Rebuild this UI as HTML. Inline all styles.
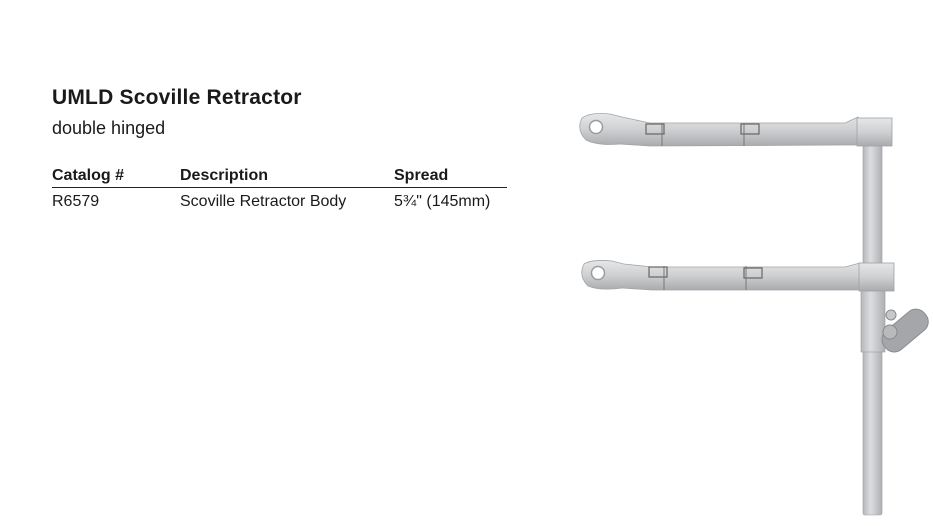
<!DOCTYPE html>
<html><head><meta charset="utf-8"><style>
body{margin:0;background:#fff;width:933px;height:526px;overflow:hidden;position:relative;font-family:"Liberation Sans",sans-serif;color:#1a1a1a}
.t{position:absolute;white-space:nowrap}
</style></head><body>
<div class="t" style="left:52px;top:86px;font-size:21px;font-weight:bold;letter-spacing:0.2px">UMLD Scoville Retractor</div>
<div class="t" style="left:52px;top:118px;font-size:18px">double hinged</div>
<div class="t" style="left:52px;top:167px;font-size:16px;font-weight:bold">Catalog #</div>
<div class="t" style="left:180px;top:167px;font-size:16px;font-weight:bold">Description</div>
<div class="t" style="left:394px;top:167px;font-size:16px;font-weight:bold">Spread</div>
<div style="position:absolute;left:52px;top:187px;width:455px;height:1px;background:#222"></div>
<div class="t" style="left:52px;top:193px;font-size:16px">R6579</div>
<div class="t" style="left:180px;top:193px;font-size:16px">Scoville Retractor Body</div>
<div class="t" style="left:394px;top:193px;font-size:16px">5¾" (145mm)</div>
<svg style="position:absolute;left:0;top:0" width="933" height="526">
<defs>
<linearGradient id="g" x1="0" y1="0" x2="0" y2="1"><stop offset="0" stop-color="#e6e7e8"/><stop offset="0.5" stop-color="#cfd0d2"/><stop offset="1" stop-color="#a9abae"/></linearGradient>
<linearGradient id="v" x1="0" y1="0" x2="1" y2="0"><stop offset="0" stop-color="#b5b7ba"/><stop offset="0.4" stop-color="#dcdddf"/><stop offset="1" stop-color="#aeb0b3"/></linearGradient>
</defs>
<rect x="863" y="145" width="19" height="370" rx="2" fill="url(#v)" stroke="#9a9c9f" stroke-width="0.6"/>
<rect x="861" y="290" width="24" height="62" fill="url(#v)" stroke="#999" stroke-width="0.6"/>
<g transform="rotate(-40 905 332)"><rect x="880" y="319" width="52" height="24" rx="11" fill="#a4a6a9" stroke="#8a8c8f"/></g>
<circle cx="890" cy="332" r="7" fill="#b8babc" stroke="#888"/>
<circle cx="891" cy="315" r="5" fill="#c8c9cb" stroke="#888"/>
<g>
<path d="M582 118 Q590 112 610 114 L622 117 L650 123 L845 123 L858 117 L858 145 L845 145 L650 146 L620 144 Q598 146 586 140 Q576 130 582 118Z" fill="url(#g)" stroke="#a2a4a7" stroke-width="0.8"/>
<circle cx="596" cy="127" r="6.5" fill="#fff" stroke="#9a9c9f" stroke-width="1.5"/>
<rect x="857" y="118" width="35" height="28" fill="url(#g)" stroke="#9fa1a4" stroke-width="0.8"/>
<rect x="646" y="124" width="18" height="10" fill="none" stroke="#666" stroke-width="1.2"/>
<rect x="741" y="124" width="18" height="10" fill="none" stroke="#666" stroke-width="1.2"/>
<line x1="662" y1="123" x2="662" y2="146" stroke="#777"/>
<line x1="744" y1="123" x2="744" y2="146" stroke="#777"/>
</g>
<g>
<path d="M584 264 Q592 259 612 261 L624 264 L652 267 L845 267 L860 263 L860 290 L845 290 L652 290 L622 288 Q600 291 588 286 Q578 276 584 264Z" fill="url(#g)" stroke="#a2a4a7" stroke-width="0.8"/>
<circle cx="598" cy="273" r="6.5" fill="#fff" stroke="#9a9c9f" stroke-width="1.5"/>
<rect x="859" y="263" width="35" height="28" fill="url(#g)" stroke="#9fa1a4" stroke-width="0.8"/>
<rect x="649" y="267" width="18" height="10" fill="none" stroke="#666" stroke-width="1.2"/>
<rect x="744" y="268" width="18" height="10" fill="none" stroke="#666" stroke-width="1.2"/>
<line x1="664" y1="266" x2="664" y2="290" stroke="#777"/>
<line x1="746" y1="266" x2="746" y2="290" stroke="#777"/>
</g>
</svg>
</body></html>
